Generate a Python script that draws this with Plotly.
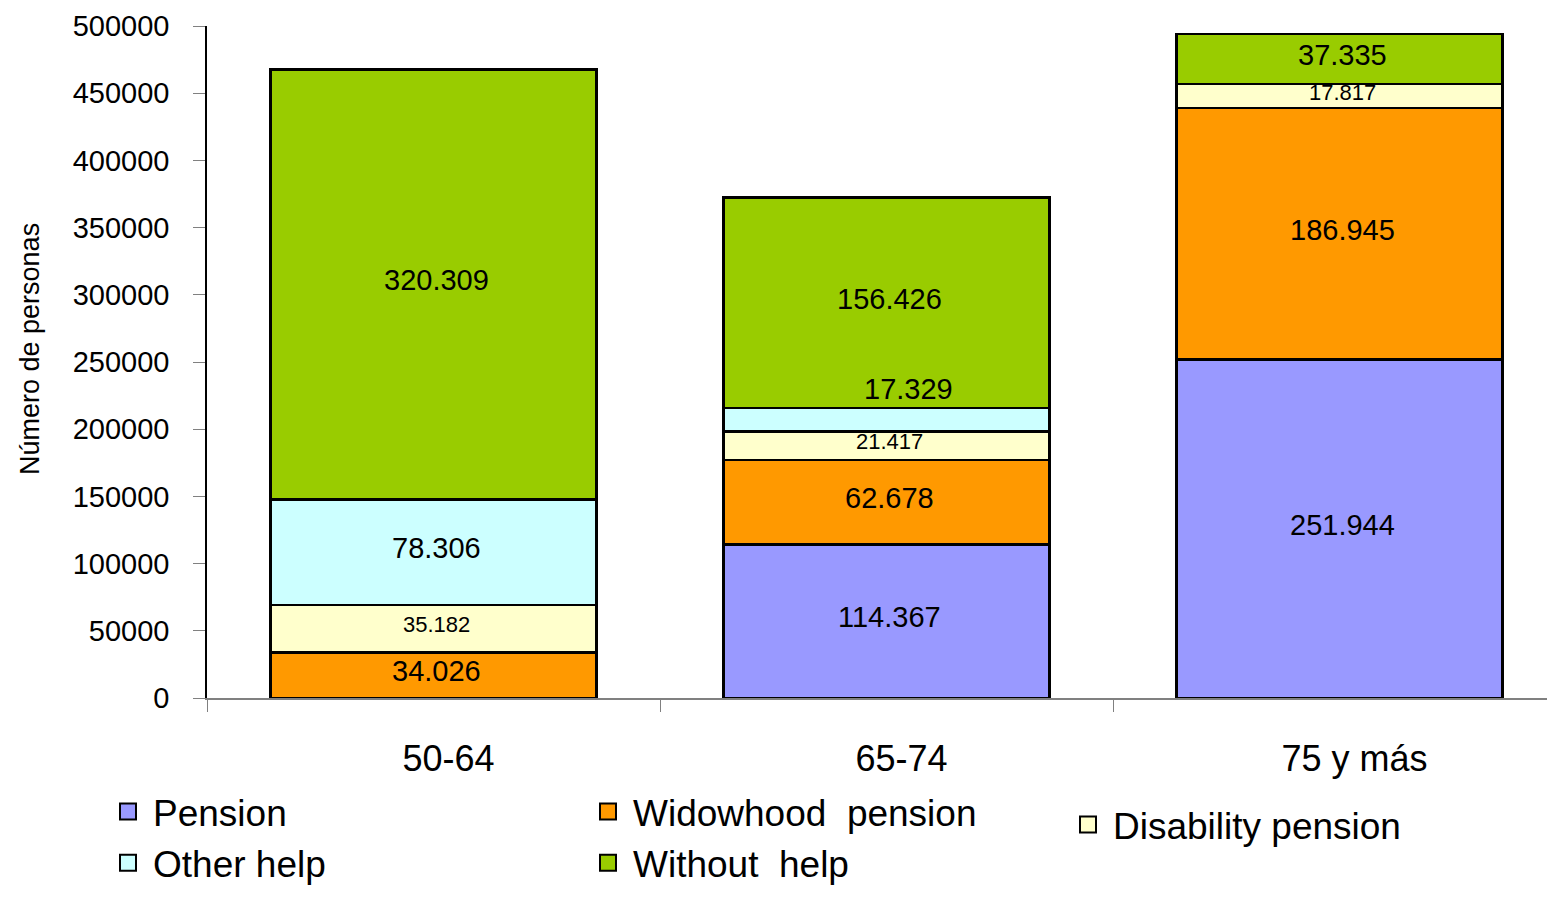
import plotly.graph_objects as go

categories = ["50-64", "65-74", "75 y más"]
series_names = ["Pension", "Widowhood  pension", "Disability pension", "Other help", "Without  help"]
pension = [0, 114367, 251944]
widowhood = [34026, 62678, 186945]
disability = [35182, 21417, 17817]
other_help = [78306, 17329, 0]
without_help = [320309, 156426, 37335]
y_ticks = [0, 50000, 100000, 150000, 200000, 250000, 300000, 350000, 400000, 450000, 500000]

colors = ["#9999FF", "#FF9900", "#FFFFCC", "#CCFFFF", "#99CC00"]
all_series = [pension, widowhood, disability, other_help, without_help]

NARROW = "Liberation Sans, Arial, sans-serif"
REG = "Liberation Sans, Arial, sans-serif"

W, H = 1539, 883
OFF = 8  # default page body margin

fig = go.Figure()
for name, vals, col in zip(series_names, all_series, colors):
    fig.add_trace(go.Bar(
        x=categories, y=vals, name=name, showlegend=False,
        marker=dict(color=col, line=dict(color="black", width=2.5)),
        width=0.72, hoverinfo="skip",
    ))

# legend proxies: three columns
legend_ids = ["legend", "legend2", "legend3", "legend", "legend2"]
for name, col, lg in zip(series_names, colors, legend_ids):
    fig.add_trace(go.Scatter(
        x=[None], y=[None], mode="markers", name=name, legend=lg, legendgroup=name,
        marker=dict(symbol="square", size=21, color=col, line=dict(color="black", width=2)),
    ))

# value labels
annotations = []
for ci, cat in enumerate(categories):
    base = 0
    for si, vals in enumerate(all_series):
        v = vals[ci]
        if v:
            label = f"{v:,}".replace(",", ".")
            small = si == 2
            xs, ys = 3, 4
            if si == 3 and ci == 1:
                xs, ys = 22, 31
            annotations.append(dict(
                x=cat, y=base + v / 2, text=label, showarrow=False,
                xshift=xs, yshift=ys,
                font=dict(family=REG if small else NARROW, size=22 if small else 29, color="black"),
            ))
        base += v

annotations.append(dict(
    text="Número de personas", textangle=-90, showarrow=False,
    xref="paper", yref="paper", x=(30 - OFF - 199) / 1340, y=(698 - 349) / 672,
    xanchor="center", yanchor="middle",
    font=dict(family=REG, size=27, color="black"),
))

def leg(xpx, ypx):
    return dict(
        orientation="v", xref="container", yref="container",
        x=xpx / W, y=1 - ypx / H, xanchor="left", yanchor="top",
        font=dict(family=REG, size=37, color="black"),
        bgcolor="rgba(0,0,0,0)", traceorder="normal", tracegroupgap=8,
        itemwidth=40,
    )

fig.update_layout(
    width=W, height=H,
    margin=dict(l=199, r=0, t=18, b=193, autoexpand=False),
    paper_bgcolor="white", plot_bgcolor="white",
    barmode="stack", bargap=0.28,
    annotations=annotations,
    xaxis=dict(
        range=[-0.5, 2.458], showline=True, linecolor="#808080", linewidth=1.5,
        ticks="outside", tickson="boundaries", ticklen=12, tickcolor="#808080",
        tickfont=dict(family=NARROW, size=36, color="black"),
        ticklabelshift=15, ticklabelstandoff=28,
        showgrid=False, zeroline=False, automargin=False,
    ),
    yaxis=dict(
        range=[0, 500000], tickvals=y_ticks, ticktext=[str(t) for t in y_ticks],
        showline=True, linecolor="black", linewidth=1.5,
        ticks="outside", ticklen=12, tickcolor="#808080",
        tickfont=dict(family=NARROW, size=29, color="black"),
        ticklabelstandoff=18,
        showgrid=False, zeroline=False, automargin=False,
    ),
    legend=leg(95, 773),
    legend2=leg(575, 773),
    legend3=leg(1055, 786),
)

fig.write_html("out.html")
